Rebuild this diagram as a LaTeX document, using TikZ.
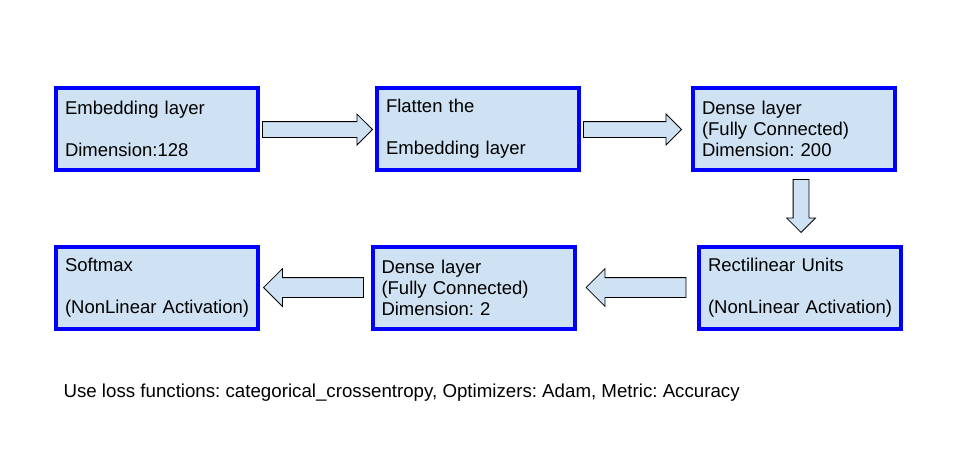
\documentclass[tikz,border=0pt]{standalone}
\usepackage{fontspec}
\setmainfont{Liberation Sans}
\frenchspacing
\usetikzlibrary{shapes,shapes.arrows,positioning,calc}
\definecolor{lyrfill}{HTML}{CFE2F3}
\definecolor{lyrblue}{HTML}{0000FF}
\tikzset{
  lyrbox/.style={
    rectangle, draw=lyrblue, line width=4pt, fill=lyrfill,
    minimum width=202pt, minimum height=82pt, inner xsep=9pt,
    text width=184pt, align=left,
    font=\fontsize{18.5}{21}\selectfont
  },
  blockarrow/.style={
    single arrow, draw=black, line width=0.8pt, fill=lyrfill,
    inner sep=0pt, single arrow head indent=0pt
  },
  notetext/.style={
    anchor=west, font=\fontsize{18.7}{21}\selectfont
  }
}
\begin{document}
\begin{tikzpicture}[x=1pt, y=-1pt]
  \useasboundingbox (0,0) rectangle (957,456);

  % Top row
  \node[lyrbox] (emb)    at (157,128.5) {Embedding layer\\[21pt]Dimension:128};
  \node[lyrbox] (flat)   at (478,128.5) {Flatten the\\[21pt]Embedding layer};
  \node[lyrbox] (dense1) at (794,128.5) {Dense layer\\(Fully Connected)\\Dimension: 200};

  % Bottom row
  \node[lyrbox] (relu)   at (800,287.5) {Rectilinear Units\\[21pt]\mbox{(NonLinear Activation)}};
  \node[lyrbox] (dense2) at (473.5,287.5) {Dense layer\\(Fully Connected)\\Dimension: 2};
  \node[lyrbox] (soft)   at (157,287.5) {Softmax\\[21pt]\mbox{(NonLinear Activation)}};

  % Block arrows
  \node[blockarrow, anchor=tip, minimum height=110pt, minimum width=30pt,
        single arrow head extend=7.5pt, inner ysep=7.5pt] (a1) at ($(flat.west)+(-2,1)$) {};
  \node[blockarrow, anchor=tip, minimum height=98pt, minimum width=30pt,
        single arrow head extend=7.5pt, inner ysep=7.5pt] (a2) at ($(dense1.west)+(-9,1)$) {};
  \node[blockarrow, anchor=tip, rotate=-90, minimum height=53pt, minimum width=28pt,
        single arrow head extend=6.5pt, inner ysep=7.5pt] (a3) at ($(relu.north)+(1,-11.5)$) {};
  \node[blockarrow, anchor=tip, rotate=180, minimum height=100pt, minimum width=37pt,
        single arrow head extend=9pt, inner ysep=9.5pt] (a4) at ($(dense2.east)+(9,0)$) {};
  \node[blockarrow, anchor=tip, rotate=180, minimum height=100pt, minimum width=37pt,
        single arrow head extend=9pt, inner ysep=9.5pt] (a5) at ($(soft.east)+(3,0)$) {};

  % Note
  \node[notetext] (note) at (60,393) {Use loss functions: categorical\_crossentropy, Optimizers: Adam, Metric: Accuracy};
\end{tikzpicture}
\end{document}
